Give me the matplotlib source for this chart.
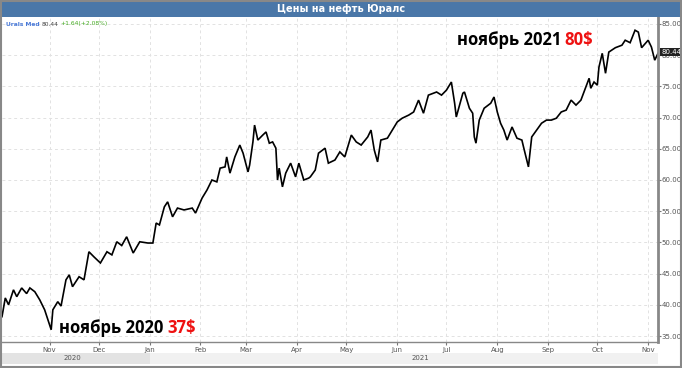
import numpy as np
import pandas as pd
import matplotlib
matplotlib.use('Agg')
import matplotlib.pyplot as plt
import matplotlib.dates as mdates
from matplotlib.patches import Rectangle

# Urals Med price
dates = [
    '2020-10-03', '2020-10-05', '2020-10-07', '2020-10-10', '2020-10-12', '2020-10-15',
    '2020-10-18', '2020-10-20', '2020-10-23', '2020-10-26', '2020-10-29', '2020-11-02',
    '2020-11-03', '2020-11-06', '2020-11-08', '2020-11-11', '2020-11-13', '2020-11-15',
    '2020-11-19', '2020-11-22', '2020-11-25', '2020-11-28', '2020-12-02', '2020-12-06',
    '2020-12-09', '2020-12-12', '2020-12-15', '2020-12-18', '2020-12-22', '2020-12-26',
    '2020-12-31', '2021-01-03', '2021-01-05', '2021-01-07', '2021-01-10', '2021-01-12',
    '2021-01-15', '2021-01-18', '2021-01-22', '2021-01-27', '2021-01-29', '2021-02-02',
    '2021-02-05', '2021-02-08', '2021-02-11', '2021-02-13', '2021-02-16', '2021-02-17',
    '2021-02-19', '2021-02-22', '2021-02-25', '2021-02-27', '2021-03-02', '2021-03-03',
    '2021-03-05', '2021-03-06', '2021-03-08', '2021-03-11', '2021-03-13', '2021-03-15',
    '2021-03-17', '2021-03-19', '2021-03-20', '2021-03-21', '2021-03-23', '2021-03-25',
    '2021-03-28', '2021-03-31', '2021-04-02', '2021-04-05', '2021-04-08', '2021-04-09',
    '2021-04-12', '2021-04-14', '2021-04-18', '2021-04-20', '2021-04-24', '2021-04-27',
    '2021-04-30', '2021-05-04', '2021-05-07', '2021-05-10', '2021-05-14', '2021-05-16',
    '2021-05-18', '2021-05-20', '2021-05-22', '2021-05-26', '2021-05-29', '2021-06-01',
    '2021-06-04', '2021-06-08', '2021-06-11', '2021-06-14', '2021-06-17', '2021-06-20',
    '2021-06-25', '2021-06-28', '2021-07-01', '2021-07-04', '2021-07-06', '2021-07-07',
    '2021-07-11', '2021-07-12', '2021-07-15', '2021-07-17', '2021-07-18', '2021-07-19',
    '2021-07-21', '2021-07-24', '2021-07-28', '2021-07-30', '2021-08-01', '2021-08-03',
    '2021-08-05', '2021-08-07', '2021-08-10', '2021-08-13', '2021-08-16', '2021-08-17',
    '2021-08-19', '2021-08-20', '2021-08-22', '2021-08-25', '2021-08-28', '2021-08-31',
    '2021-09-03', '2021-09-06', '2021-09-09', '2021-09-12', '2021-09-15', '2021-09-18',
    '2021-09-21', '2021-09-24', '2021-09-26', '2021-09-27', '2021-09-29', '2021-10-01',
    '2021-10-02', '2021-10-04', '2021-10-06', '2021-10-08', '2021-10-12', '2021-10-16',
    '2021-10-18', '2021-10-21', '2021-10-24', '2021-10-26', '2021-10-28', '2021-11-01',
    '2021-11-03', '2021-11-05', '2021-11-07',
]
prices = [
    38.1, 41.1, 40.0, 42.4, 41.3, 42.7,
    41.8, 42.7, 42.1, 40.8, 39.2, 36.0,
    39.2, 40.5, 39.8, 44.0, 44.8, 42.9,
    44.5, 44.0, 48.5, 47.7, 46.7, 48.5,
    48.0, 50.1, 49.5, 50.9, 48.3, 50.1,
    49.9, 49.9, 53.1, 52.8, 55.7, 56.5,
    54.1, 55.5, 55.2, 55.5, 54.7, 57.1,
    58.4, 60.0, 59.7, 61.9, 62.1, 63.7,
    61.1, 63.7, 65.6, 64.3, 61.3, 62.4,
    66.1, 68.8, 66.4, 67.2, 67.7, 65.9,
    66.1, 65.1, 60.0, 61.9, 58.9, 61.1,
    62.7, 60.5, 62.7, 60.0, 60.3, 60.5,
    61.6, 64.3, 65.1, 62.7, 63.2, 64.5,
    63.7, 67.2, 66.1, 65.6, 66.9, 68.0,
    64.8, 62.9, 66.4, 66.7, 68.0, 69.3,
    69.9, 70.4, 70.9, 72.8, 70.7, 73.6,
    74.1, 73.6, 74.4, 75.7, 72.3, 70.1,
    73.9, 74.1, 71.5, 70.7, 66.9, 65.9,
    69.6, 71.5, 72.3, 73.3, 70.9, 69.1,
    68.0, 66.4, 68.5, 66.7, 66.4, 65.3,
    63.2, 62.1, 66.9, 68.0, 69.1, 69.6,
    69.6, 69.9, 70.9, 71.2, 72.8, 72.0,
    72.8, 74.9, 76.3, 74.7, 75.7, 75.2,
    78.1, 80.3, 77.1, 80.5, 81.2, 81.6,
    82.4, 82.0, 84.0, 83.7, 81.2, 82.4,
    81.3, 79.2, 80.3,
]
yticks = [35, 40, 45, 50, 55, 60, 65, 70, 75, 80, 85]

title = 'Цены на нефть Юралс'
last_price = '80.44'
change = '+1.64(+2.08%)'

W, H = 682, 368
fig = plt.figure(figsize=(W / 100, H / 100), dpi=100)
fig.patch.set_facecolor('white')

def fx(px):
    return px / W

def fy(py):
    return 1 - py / H

x = pd.to_datetime(dates)
start, end = pd.Timestamp('2020-10-03'), pd.Timestamp('2021-11-07')

# main price panel
ax = fig.add_axes([fx(2), fy(342), fx(656), (342 - 17) / H])
ax.plot(x, prices, color='black', lw=1.2, solid_joinstyle='miter')
ax.set_xlim(start, end)
ax.set_ylim(34.04, 86.12)
ax.yaxis.tick_right()
ax.set_yticks(yticks)
ax.yaxis.set_major_formatter(plt.FuncFormatter(lambda v, p: f'{v:.2f}'))
ax.xaxis.set_major_locator(mdates.MonthLocator())
ax.xaxis.set_major_formatter(mdates.DateFormatter('%b'))
ax.tick_params(axis='y', labelsize=5, labelcolor='#555555', length=2,
               color='#777777', pad=0.5)
ax.tick_params(axis='x', labelsize=5, labelcolor='#555555', length=2,
               color='#777777', pad=1.5)
ax.grid(True, color='#e2e2e2', ls=(0, (3, 3)), lw=0.7)
for side in ['top', 'left']:
    ax.spines[side].set_visible(False)
ax.spines['right'].set_color('#888888')
ax.spines['right'].set_linewidth(2)
ax.spines['bottom'].set_color('#888888')
ax.spines['bottom'].set_linewidth(1)

# year band under the month labels
ay = fig.add_axes([fx(2), fy(364), fx(656), 11 / H], sharex=ax)
ay.axvspan(start, pd.Timestamp('2021-01-01'), color='#e3e3e3', lw=0)
ay.axvspan(pd.Timestamp('2021-01-01'), end, color='#f1f1f1', lw=0)
ay.text(pd.Timestamp('2020-11-15'), 0.5, '2020', fontsize=5, color='#555555',
        ha='center', va='center')
ay.text(pd.Timestamp('2021-06-15'), 0.5, '2021', fontsize=5, color='#555555',
        ha='center', va='center')
ay.set_ylim(0, 1)
ay.axis('off')

# title bar
fig.patches.append(Rectangle((0, fy(17)), 1, 17 / H, transform=fig.transFigure,
                             facecolor='#4a77a8', edgecolor='none', zorder=0))
fig.text(0.5, fy(8.5), title, color='white', fontsize=7, fontweight='bold',
         ha='center', va='center')

# outer frame
fig.patches.append(Rectangle((0.002, 0.003), 0.996, 0.994, transform=fig.transFigure,
                             facecolor='none', edgecolor='#888888', lw=1.5, zorder=5))

fig.canvas.draw()
r = fig.canvas.get_renderer()

def after(text_obj, gap=0):
    return (text_obj.get_window_extent(r).x1 + gap) / W

# legend line in the corner
t = fig.text(fx(6), fy(24), 'Urals Med', color='#4a7ad8', fontsize=4.3,
             fontweight='bold', va='center')
t2 = fig.text(after(t, 2), fy(24), last_price, color='#444444', fontsize=4.3,
              va='center')
fig.text(after(t2, 2), fy(24), change, color='#44aa22', fontsize=4.3, va='center')

# last price tag
ax.annotate(last_price, xy=(1.0, 80.44), xycoords=('axes fraction', 'data'),
            xytext=(2.5, 0), textcoords='offset points', fontsize=5, color='white',
            va='center', ha='left',
            bbox=dict(boxstyle='square,pad=0.15', fc='#222222', ec='none'))

# annotations
font = ['Open Sans', 'DejaVu Sans']
a1 = fig.text(fx(59), fy(328), 'ноябрь 2020', fontsize=12, fontweight='bold',
              family=font, va='center', ha='left', color='black')
fig.text(after(a1, 4), fy(328), '37$', fontsize=12, fontweight='bold',
         family=font, va='center', ha='left', color='#ee1111')
a2 = fig.text(fx(457), fy(40), 'ноябрь 2021', fontsize=12, fontweight='bold',
              family=font, va='center', ha='left', color='black')
fig.text(after(a2, 3), fy(40), '80$', fontsize=12, fontweight='bold',
         family=font, va='center', ha='left', color='#ee1111')

fig.savefig('out.png', dpi=100)
